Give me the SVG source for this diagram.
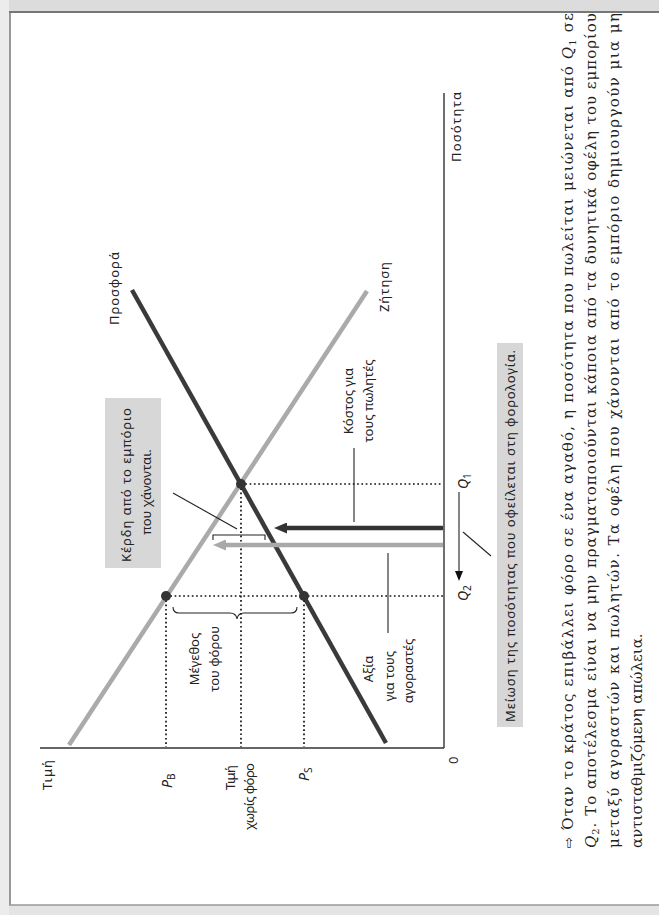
<svg xmlns="http://www.w3.org/2000/svg" width="659" height="915" viewBox="0 0 659 915">
<style>
.lbl{font-family:"Noto Sans","DejaVu Sans",sans-serif;font-size:13px;fill:#222}
.box{font-family:"Noto Sans","DejaVu Sans",sans-serif;font-size:13px;fill:#222}
.var{font-family:"Noto Sans","DejaVu Sans",sans-serif;font-size:14px;font-style:italic;fill:#222}
.cap{font-family:"DejaVu Serif","Liberation Serif",serif;font-size:15px;fill:#222}
.dot{stroke:#111;stroke-width:1.7;stroke-dasharray:1.7 2.6;fill:none}
.thin{stroke:#222;stroke-width:1.1;fill:none}
.axis{stroke:#333;stroke-width:1.4;fill:none}
.pt{fill:#333}
.hl{fill:#d7d7d7}
</style>
<defs>
<marker id="ahDark" markerUnits="userSpaceOnUse" markerWidth="13" markerHeight="11" refX="1" refY="5.5" orient="auto"><path d="M0,0 L13,5.5 L0,11 Z" fill="#333"/></marker>
<marker id="ahGray" markerUnits="userSpaceOnUse" markerWidth="13" markerHeight="11" refX="1" refY="5.5" orient="auto"><path d="M0,0 L13,5.5 L0,11 Z" fill="#a9a9a9"/></marker>
<marker id="ahSmall" markerUnits="userSpaceOnUse" markerWidth="10" markerHeight="8" refX="1" refY="4" orient="auto"><path d="M0,0 L10,4 L0,8 Z" fill="#111"/></marker>
</defs>
<rect width="659" height="915" fill="#fff"/>
<rect x="0" y="0" width="659" height="11" fill="#dcdcdc"/>
<rect x="0" y="905" width="659" height="10" fill="#e4e4e4"/>
<rect x="0" y="0" width="9" height="915" fill="#ececec"/>
<g id="frame">
<line x1="9" y1="12" x2="659" y2="12" stroke="#777" stroke-width="2"/>
<line x1="10" y1="12" x2="10" y2="905" stroke="#777" stroke-width="1.5"/>
<line x1="9" y1="905" x2="659" y2="905" stroke="#999" stroke-width="1.5"/>
</g>
<g id="axes">
<line class="axis" x1="444" y1="93" x2="444" y2="748"/>
<line class="axis" x1="40" y1="748" x2="444" y2="748"/>
<text class="lbl" x="461" y="162" transform="rotate(-90 461 162)" textLength="70">Ποσότητα</text>
<text class="lbl" x="52" y="790" transform="rotate(-90 52 790)" textLength="30">Τιμή</text>
<text class="lbl" x="458" y="764" transform="rotate(-90 458 764)">0</text>
</g>
<g id="supply">
<line x1="132" y1="290" x2="386" y2="743" stroke="#3a3a3a" stroke-width="4.5"/>
<text class="lbl" x="119" y="325" transform="rotate(-90 119 325)" textLength="73">Προσφορά</text>
</g>
<g id="demand">
<line x1="367" y1="291" x2="69" y2="745" stroke="#aaaaaa" stroke-width="4.5"/>
<text class="lbl" x="389" y="312" transform="rotate(-90 389 312)" textLength="50">Ζήτηση</text>
</g>
<g id="guides">
<line class="dot" x1="241" y1="484" x2="443" y2="484"/>
<line class="dot" x1="166" y1="596" x2="443" y2="596"/>
<line class="dot" x1="166" y1="596" x2="166" y2="747"/>
<line class="dot" x1="241" y1="484" x2="241" y2="747"/>
<line class="dot" x1="304" y1="596" x2="304" y2="747"/>
</g>
<g id="points">
<circle class="pt" cx="241" cy="484" r="5"/>
<circle class="pt" cx="166" cy="596" r="5"/>
<circle class="pt" cx="304" cy="596" r="5"/>
</g>
<g id="price-labels">
<text class="var" x="172" y="788" transform="rotate(-90 172 788)">P<tspan font-size="10" font-style="normal" dy="3">B</tspan></text>
<text class="lbl" x="235" y="790" transform="rotate(-90 235 790)" textLength="25">Τιμή</text>
<text class="lbl" x="254" y="830" transform="rotate(-90 254 830)" textLength="67">χωρίς φόρο</text>
<text class="var" x="309" y="781" transform="rotate(-90 309 781)">P<tspan font-size="10" font-style="normal" dy="3">S</tspan></text>
</g>
<g id="quantity-labels">
<text class="var" x="468" y="489" transform="rotate(-90 468 489)">Q<tspan font-size="10" font-style="normal" dy="3">1</tspan></text>
<text class="var" x="468" y="601" transform="rotate(-90 468 601)">Q<tspan font-size="10" font-style="normal" dy="3">2</tspan></text>
</g>
<g id="tax-size">
<text class="lbl" x="199" y="659" text-anchor="middle" transform="rotate(-90 199 659)">Μέγεθος</text>
<text class="lbl" x="219" y="659" text-anchor="middle" transform="rotate(-90 219 659)">του φόρου</text>
</g>
<g id="lost-gains">
<rect class="hl" x="105" y="398" width="56" height="170"/>
<text class="box" x="131" y="485" text-anchor="middle" transform="rotate(-90 131 485)" textLength="154">Κέρδη από το εμπόριο</text>
<text class="box" x="151" y="492" text-anchor="middle" transform="rotate(-90 151 492)">που χάνονται.</text>
</g>
<g id="seller-cost">
<text class="lbl" x="353" y="401" text-anchor="middle" transform="rotate(-90 353 401)">Κόστος για</text>
<text class="lbl" x="373" y="401" text-anchor="middle" transform="rotate(-90 373 401)">τους πωλητές</text>
</g>
<g id="buyer-value">
<text class="lbl" x="373" y="669" text-anchor="middle" transform="rotate(-90 373 669)">Αξία</text>
<text class="lbl" x="394" y="676" text-anchor="middle" transform="rotate(-90 394 676)">για τους</text>
<text class="lbl" x="413" y="671" text-anchor="middle" transform="rotate(-90 413 671)">αγοραστές</text>
</g>
<g id="reduction">
<rect class="hl" x="497" y="343" width="26" height="384"/>
<text class="box" x="515" y="722" transform="rotate(-90 515 722)" textLength="372">Μείωση της ποσότητας που οφείλεται στη φορολογία.</text>
</g>
<g id="connectors">
<line x1="443" y1="528" x2="286" y2="528" stroke="#333" stroke-width="4.5" marker-end="url(#ahDark)"/>
<line x1="443" y1="545" x2="225" y2="545" stroke="#a9a9a9" stroke-width="4.5" marker-end="url(#ahGray)"/>
<line class="thin" x1="459" y1="492" x2="459" y2="572" marker-end="url(#ahSmall)"/>
<path class="thin" d="M173,607 Q173,613 179,613 L230,613 Q236,613 237,619 Q238,613 244,613 L291,613 Q297,613 297,607"/>
<path class="thin" d="M213,540 L213,535 L265,535 L265,540"/>
<line class="thin" x1="173" y1="493" x2="237" y2="529"/>
<line class="thin" x1="354" y1="448" x2="354" y2="522"/>
<line class="thin" x1="388" y1="553" x2="388" y2="633"/>
<line class="thin" x1="463" y1="532" x2="491" y2="556"/>
</g>
<g id="caption">
<text class="cap" x="573" y="848" transform="rotate(-90 573 848)" textLength="835" lengthAdjust="spacing"><tspan font-family="DejaVu Sans" font-size="13">⇨</tspan> Όταν το κράτος επιβάλλει φόρο σε ένα αγαθό, η ποσότητα που πωλείται μειώνεται από <tspan font-style="italic">Q</tspan><tspan font-size="10" dy="3">1</tspan><tspan dy="-3"> σε</tspan></text>
<text class="cap" x="596" y="848" transform="rotate(-90 596 848)" textLength="835" lengthAdjust="spacing"><tspan font-style="italic">Q</tspan><tspan font-size="10" dy="3">2</tspan><tspan dy="-3">. Το αποτέλεσμα είναι να μην πραγματοποιούνται κάποια από τα δυνητικά οφέλη του εμπορίου</tspan></text>
<text class="cap" x="619" y="848" transform="rotate(-90 619 848)" textLength="835" lengthAdjust="spacing">μεταξύ αγοραστών και πωλητών. Τα οφέλη που χάνονται από το εμπόριο δημιουργούν μια μη</text>
<text class="cap" x="642" y="848" transform="rotate(-90 642 848)">αντισταθμιζόμενη απώλεια.</text>
</g>
</svg>
